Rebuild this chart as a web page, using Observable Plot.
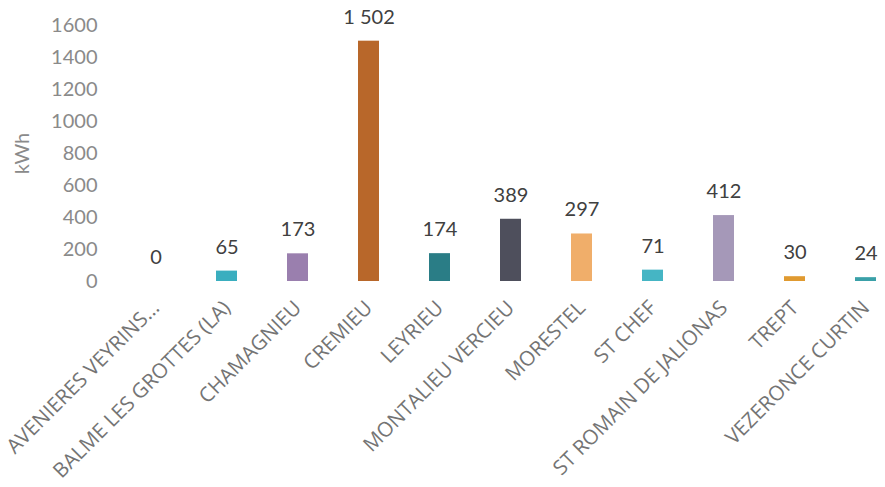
<!DOCTYPE html>
<html>
<head>
<meta charset="utf-8">
<script src="https://cdn.jsdelivr.net/npm/d3@7"></script>
<script src="https://cdn.jsdelivr.net/npm/@observablehq/plot@0.6"></script>
<style>
  html, body { margin: 0; padding: 0; background: #ffffff; }
  #chart { width: 885px; height: 487px; overflow: hidden; }
</style>
</head>
<body>
<div id="chart"></div>
<script>
const categories = [
  "AVENIERES VEYRINS...",
  "BALME LES GROTTES (LA)",
  "CHAMAGNIEU",
  "CREMIEU",
  "LEYRIEU",
  "MONTALIEU VERCIEU",
  "MORESTEL",
  "ST CHEF",
  "ST ROMAIN DE JALIONAS",
  "TREPT",
  "VEZERONCE CURTIN"
];
const values = [0, 65, 173, 1502, 174, 389, 297, 71, 412, 30, 24];
const colors = ["#3aaebf", "#3aaebf", "#9a7fae", "#b8672a", "#2a7d86", "#4e4f5c", "#f0ae6a", "#45b5c4", "#a598b8", "#e09a30", "#3aa0a8"];
const yTicks = [0, 200, 400, 600, 800, 1000, 1200, 1400, 1600];
const yLabel = "kWh";

const data = categories.map((c, i) => ({ category: c, value: values[i], color: colors[i] }));
const fmt = v => String(v).replace(/\B(?=(\d{3})+(?!\d))/g, " ");

const chart = Plot.plot({
  width: 885,
  height: 487,
  marginLeft: 120,
  marginRight: 0,
  marginTop: 25,
  marginBottom: 206,
  style: { fontFamily: "Lato, 'Open Sans', sans-serif", background: "#ffffff" },
  x: { domain: categories, range: [120, 901], paddingInner: 0.7, paddingOuter: 0.35, align: 0.5 },
  y: { domain: [0, 1600] },
  marks: [
    Plot.axisY({
      ticks: yTicks,
      tickFormat: d => String(d),
      tickSize: 0,
      tickPadding: 23,
      fontSize: 20,
      color: "#8a8a8a",
      label: yLabel,
      labelAnchor: "center",
      labelArrow: "none",
      labelOffset: 106
    }),
    Plot.axisX({
      tickSize: 0,
      tickPadding: 23,
      tickRotate: -45,
      fontSize: 20.5,
      fontFamily: "'Open Sans', sans-serif",
      color: "#747474",
      label: null
    }),
    Plot.barY(data, { x: "category", y: "value", fill: "color" }),
    Plot.text(data, {
      x: "category",
      y: "value",
      text: d => fmt(d.value),
      dy: -24,
      fontSize: 20,
      fill: "#404040"
    })
  ]
});
document.getElementById("chart").appendChild(chart);
</script>
</body>
</html>
